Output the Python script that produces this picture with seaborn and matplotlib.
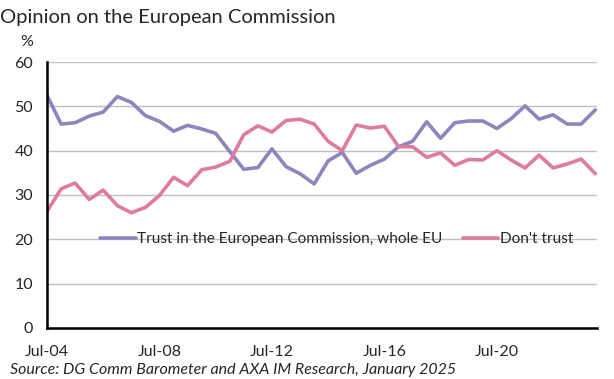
import pandas as pd
import seaborn as sns
import matplotlib
matplotlib.use('Agg')
import matplotlib.pyplot as plt
import matplotlib.dates as mdates

# Data (semi-annual, Jul-04 to Jan-24)
dates = pd.date_range('2004-07-01', periods=40, freq='6MS')
trust = [52.5, 46.0, 46.3, 47.8, 48.7, 52.2, 50.9, 47.9, 46.6, 44.4,
         45.7, 44.9, 43.9, 39.8, 35.8, 36.2, 40.4, 36.4, 34.8, 32.5,
         37.7, 39.6, 34.9, 36.7, 38.1, 40.9, 42.1, 46.5, 42.8, 46.3,
         46.7, 46.7, 45.0, 47.2, 50.1, 47.1, 48.1, 46.0, 46.0, 49.2]
dont_trust = [26.3, 31.4, 32.7, 29.0, 31.1, 27.6, 26.0, 27.2, 29.9, 34.0,
              32.1, 35.7, 36.3, 37.6, 43.6, 45.6, 44.2, 46.8, 47.1, 46.0,
              42.1, 40.0, 45.8, 45.1, 45.5, 40.9, 40.9, 38.5, 39.5, 36.7,
              38.0, 37.9, 40.0, 37.9, 36.1, 39.0, 36.1, 37.0, 38.1, 34.8]
series_names = ['Trust in the European Commission, whole EU', "Don't trust"]
colors = ['#8B87BE', '#DE7B9E']

dtf = pd.DataFrame({'date': dates, series_names[0]: trust,
                    series_names[1]: dont_trust})
dtf = dtf.melt(id_vars='date', var_name='Series', value_name='Value')

sns.set_style('white')
plt.rcParams['font.family'] = ['Lato', 'DejaVu Sans']

fig = plt.figure(figsize=(6.14, 3.79), dpi=100)
ax = fig.add_axes([0.0765, 0.1346, 0.8955, 0.7018])

sns.lineplot(data=dtf, x='date', y='Value', hue='Series',
             palette=colors, linewidth=2.6, ax=ax)

ax.set_ylim(0, 60)
ax.set_yticks(range(0, 61, 10))
ax.set_xlim(pd.Timestamp('2004-07-01'), pd.Timestamp('2024-01-20'))
ax.xaxis.set_major_locator(mdates.YearLocator(4, month=7, day=1))
ax.xaxis.set_minor_locator(mdates.YearLocator(1, month=7, day=1))
ax.xaxis.set_major_formatter(mdates.DateFormatter('%b-%y'))
ax.set(xlabel=None, ylabel=None)

ax.grid(True, axis='y', color='#BFBFBF', linewidth=1)
ax.set_axisbelow(True)
for side in ['top', 'right']:
    ax.spines[side].set_visible(False)
for side in ['left', 'bottom']:
    ax.spines[side].set_color('black')
    ax.spines[side].set_linewidth(1.8)

ax.tick_params(axis='both', which='both', direction='in', color='black',
               labelsize=11.5, labelcolor='#262626')
ax.tick_params(axis='y', length=5, width=1.8, pad=10)
ax.tick_params(axis='x', which='major', length=5, width=1.2, pad=12)
ax.tick_params(axis='x', which='minor', length=4, width=1.2)

ax.legend(loc='center', bbox_to_anchor=(0.527, 0.333), ncol=2, frameon=False,
          fontsize=11.1, handlelength=2.3, handletextpad=0.1,
          columnspacing=1.3, labelcolor='#262626')

fig.text(0.0, 0.975, 'Opinion on the European Commission', fontsize=14.5,
         color='#262626', va='top', ha='left')
fig.text(0.044, 0.872, '%', fontsize=11.5, color='#262626', va='bottom',
         ha='center')
fig.text(0.016, 0.005, 'Source: DG Comm Barometer and AXA IM Research, January 2025',
         fontsize=11.5, style='italic', color='#262626', va='bottom', ha='left')

fig.savefig('out.png', dpi=100)
